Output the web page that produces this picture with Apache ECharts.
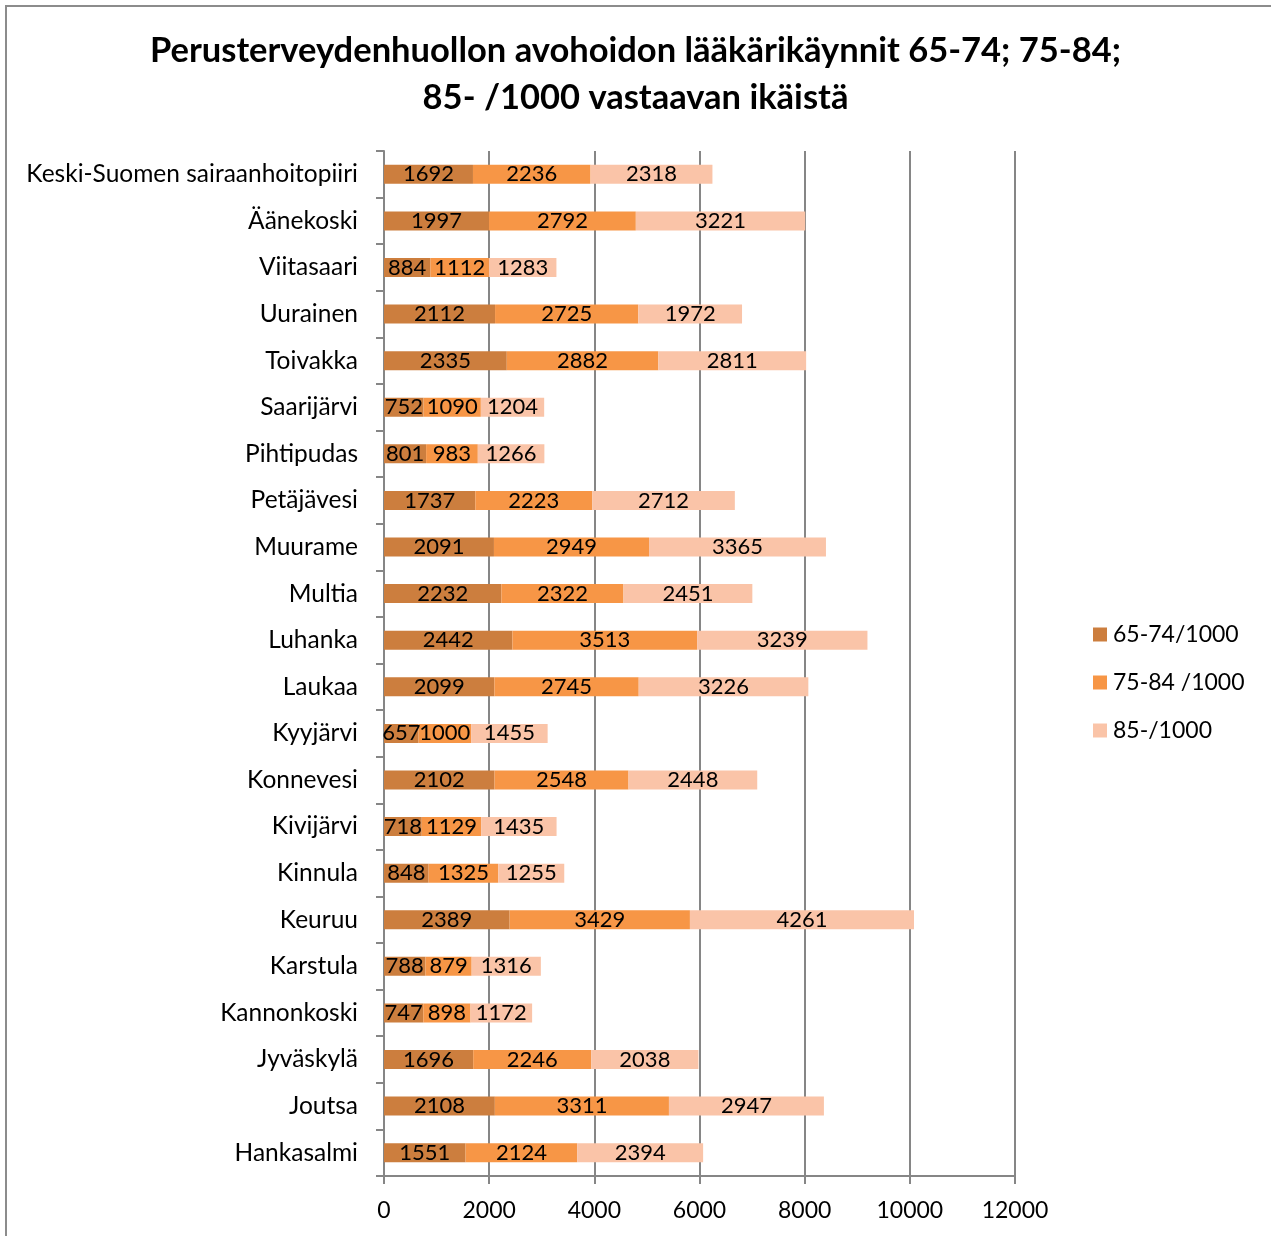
<!DOCTYPE html>
<html>
<head>
<meta charset="utf-8">
<script src="https://cdn.jsdelivr.net/npm/echarts@6/dist/echarts.min.js"></script>
<style>
  html, body { margin: 0; padding: 0; background: #fff; }
  #chart { width: 1271px; height: 1236px; }
</style>
</head>
<body>
<div id="chart"></div>
<script>
// kunnat ylhäältä alas
const kunnat = ['Keski-Suomen sairaanhoitopiiri', 'Äänekoski', 'Viitasaari', 'Uurainen', 'Toivakka',
  'Saarijärvi', 'Pihtipudas', 'Petäjävesi', 'Muurame', 'Multia', 'Luhanka', 'Laukaa', 'Kyyjärvi',
  'Konnevesi', 'Kivijärvi', 'Kinnula', 'Keuruu', 'Karstula', 'Kannonkoski', 'Jyväskylä', 'Joutsa', 'Hankasalmi'];
const ika65 = [1692, 1997, 884, 2112, 2335, 752, 801, 1737, 2091, 2232, 2442, 2099, 657, 2102, 718, 848, 2389, 788, 747, 1696, 2108, 1551];
const ika75 = [2236, 2792, 1112, 2725, 2882, 1090, 983, 2223, 2949, 2322, 3513, 2745, 1000, 2548, 1129, 1325, 3429, 879, 898, 2246, 3311, 2124];
const ika85 = [2318, 3221, 1283, 1972, 2811, 1204, 1266, 2712, 3365, 2451, 3239, 3226, 1455, 2448, 1435, 1255, 4261, 1316, 1172, 2038, 2947, 2394];
const sarjat = ['65-74/1000', '75-84 /1000', '85-/1000'];
const xTicks = [0, 2000, 4000, 6000, 8000, 10000, 12000];

const fontti = 'Lato, "Open Sans", sans-serif';
const varit = ['#cc7e3e', '#f79646', '#fac4a8'];

let myChart = echarts.init(document.getElementById('chart'));

function sarja(nimi, data, i) {
  return {
    name: nimi,
    type: 'bar',
    stack: 'yht',
    barWidth: 19,
    data: data,
    itemStyle: { color: varit[i] },
    label: {
      show: true,
      position: 'inside',
      color: '#000',
      fontSize: 22,
      fontFamily: fontti
    },
    animation: false
  };
}

myChart.setOption({
  textStyle: { fontFamily: fontti },
  graphic: [{
    type: 'rect',
    shape: { x: 6, y: 6, width: 1300, height: 1300 },
    style: { fill: 'none', stroke: '#8c8c8c', lineWidth: 2 },
    silent: true
  }],
  title: {
    text: 'Perusterveydenhuollon avohoidon lääkärikäynnit 65-74; 75-84;\n85- /1000 vastaavan ikäistä',
    left: 'center',
    top: 22,
    textStyle: {
      fontSize: 34.5,
      fontWeight: 'bold',
      lineHeight: 47,
      color: '#000',
      fontFamily: fontti
    }
  },
  legend: {
    orient: 'vertical',
    left: 1093,
    top: 623,
    padding: 0,
    itemWidth: 14,
    itemHeight: 14,
    itemGap: 25,
    icon: 'rect',
    data: sarjat,
    textStyle: { fontSize: 23, color: '#000', fontFamily: fontti, padding: [0, 0, 0, 1] }
  },
  grid: {
    left: 384,
    top: 151,
    width: 631,
    height: 1025,
    containLabel: false
  },
  xAxis: {
    type: 'value',
    min: 0,
    max: 12000,
    interval: 2000,
    axisLine: { show: true, lineStyle: { color: '#868686', width: 2 } },
    axisTick: { show: true, length: 8, lineStyle: { color: '#868686', width: 2 } },
    axisLabel: {
      fontSize: 23,
      color: '#000',
      margin: 23,
      fontFamily: fontti,
      formatter: v => xTicks.includes(v) ? String(v) : ''
    },
    splitLine: { show: true, lineStyle: { color: '#868686', width: 2 } }
  },
  yAxis: {
    type: 'category',
    inverse: true,
    data: kunnat,
    axisLine: { show: true, lineStyle: { color: '#868686', width: 2 } },
    axisTick: { show: true, length: 8, lineStyle: { color: '#868686', width: 2 } },
    axisLabel: { fontSize: 24.5, color: '#000', margin: 26, fontFamily: fontti }
  },
  series: [
    sarja(sarjat[0], ika65, 0),
    sarja(sarjat[1], ika75, 1),
    sarja(sarjat[2], ika85, 2)
  ]
});
</script>
</body>
</html>
